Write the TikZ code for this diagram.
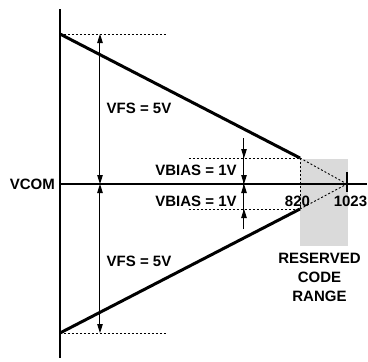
\documentclass[tikz,border=0pt]{standalone}
\usepackage{fontspec}
\setmainfont{Liberation Sans}[BoldFont={Liberation Sans Bold}]
\usetikzlibrary{arrows.meta}
\definecolor{rgray}{RGB}{218,218,218}
\begin{document}
\begin{tikzpicture}[x=1pt,y=-1pt,
  lbl/.style={font=\bfseries\fontsize{15}{19.3}\selectfont, inner sep=0pt, align=center},
  axisline/.style={line width=1.7pt},
  ramp/.style={line width=3pt},
  dim/.style={line width=1pt, -{Triangle[length=9pt,width=5.5pt]}},
  dotline/.style={line width=0.9pt, dash pattern=on 2pt off 2pt}]
\useasboundingbox (0,0) rectangle (368,362);
% coordinates
\coordinate (axT) at (60,9);
\coordinate (axB) at (60,358);
\coordinate (top) at (60,34);
\coordinate (bot) at (60,333);
\coordinate (vcL) at (60,184);
\coordinate (vcR) at (367,184);
\coordinate (ut) at (300,158);
\coordinate (lt) at (300,209);
\coordinate (ep) at (347,184);
\coordinate (tickT) at (347,172);
\coordinate (tickB) at (347,192);
\coordinate (topD) at (166,34);
\coordinate (botD) at (166,333);
\coordinate (uD) at (189,158);
\coordinate (lD) at (189,209);
% reserved range box
\fill[rgray] (300,159) rectangle (348,246);
% dotted guides
\draw[dotline] (top) -- (topD);
\draw[dotline] (bot) -- (botD);
\draw[dotline] (uD) -- (ut);
\draw[dotline] (lD) -- (lt);
\draw[dotline] (ut) -- (lt);
\draw[dotline] (ut) -- (ep);
\draw[dotline] (lt) -- (ep);
% axes
\draw[axisline] (axT) -- (axB);
\draw[line width=1.4pt] (vcL) -- (vcR);
\draw[line width=1.4pt] (tickT) -- (tickB);
% ramps
\draw[ramp] (top) -- (ut);
\draw[ramp] (bot) -- (lt);
% VFS dimensions
\coordinate (f1) at (100,34);
\coordinate (f2) at (100,184);
\coordinate (f3) at (100,333);
\coordinate (fm1) at (100,110);
\coordinate (fm2) at (100,260);
\draw[dim] (fm1) -- (f1);
\draw[dim] (fm1) -- (f2);
\draw[dim] (fm2) -- (f2);
\draw[dim] (fm2) -- (f3);
% VBIAS dimensions
\coordinate (b0) at (244,138);
\coordinate (b1) at (244,158);
\coordinate (b2) at (244,184);
\coordinate (b3) at (244,209);
\coordinate (b4) at (244,229);
\draw[line width=1pt] (b0) -- (b4);
\draw[dim] (b0) -- (b1);
\draw[dim] (b1) -- (b2);
\draw[dim] (b4) -- (b3);
\draw[dim] (b3) -- (b2);
% labels
\node[lbl] (vfs1) at (139,108) {VFS = 5V};
\node[lbl] (vfs2) at (139,261) {VFS = 5V};
\node[lbl, anchor=east] (vcom) at (55,184) {VCOM};
\node[lbl] (vb1) at (196,170) {VBIAS = 1V};
\node[lbl] (vb2) at (196,201) {VBIAS = 1V};
\node[lbl] (n820) at (297.5,201) {820};
\node[lbl] (n1023) at (350.5,201) {1023};
\node[lbl] (res) at (319.5,277.5) {RESERVED\\CODE\\RANGE};
\end{tikzpicture}
\end{document}
